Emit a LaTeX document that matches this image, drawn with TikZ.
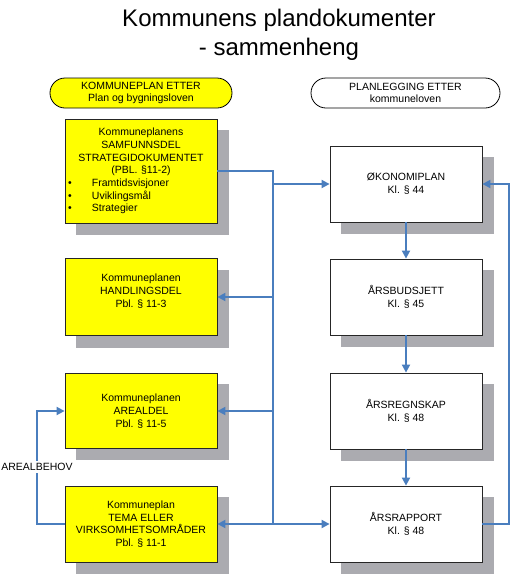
\documentclass[tikz,border=0pt]{standalone}
\usepackage{fontspec}
\setmainfont{Liberation Sans}
\usetikzlibrary{arrows.meta}
\definecolor{linkblue}{RGB}{74,126,190}
\definecolor{shgrey}{rgb}{0.67,0.67,0.69}
\definecolor{boxyellow}{RGB}{255,255,0}
\begin{document}
\begin{tikzpicture}[x=1pt,y=-1pt,
  txt/.style={font=\fontsize{10.5}{12.7}\selectfont},
  box/.style={txt, draw=black!85, line width=0.8pt, minimum width=152pt, minimum height=76pt,
    align=center, inner sep=0pt},
  ybox/.style={box, fill=boxyellow},
  wbox/.style={box, fill=white},
  shadowfill/.style={fill=shgrey, draw=shgrey, line width=0.5pt},
  pill/.style={txt, draw=black, line width=0.8pt, rounded corners=15pt, minimum height=30pt,
    align=center, inner sep=0pt},
  link/.style={draw=linkblue, line width=1.8pt},
  arr/.style={link, -{Triangle[length=8pt,width=8pt]}}]
\useasboundingbox (0,0) rectangle (511,574);

% title
\node[font=\fontsize{24}{29}\selectfont, anchor=base] (t1) at (279,26) {Kommunens plandokumenter};
\node[font=\fontsize{24}{29}\selectfont, anchor=base] (t2) at (279,55) {- sammenheng};

% headers
\node[pill, fill=boxyellow, minimum width=182pt] (hl) at (141,93) {KOMMUNEPLAN ETTER\\Plan og bygningsloven};
\node[pill, fill=white, minimum width=189pt] (hr) at (405.5,93) {PLANLEGGING ETTER\\kommuneloven};

% shadows
\filldraw[shadowfill] (76,130) rectangle (228,234);
\filldraw[shadowfill] (76,270) rectangle (228,347);
\filldraw[shadowfill] (76,384) rectangle (228,459);
\filldraw[shadowfill] (76,497) rectangle (228,573);
\filldraw[shadowfill] (341,157) rectangle (493,233);
\filldraw[shadowfill] (341,270) rectangle (493,346);
\filldraw[shadowfill] (341,384) rectangle (493,460);
\filldraw[shadowfill] (341,497) rectangle (493,573);

% left boxes
\node[ybox, minimum height=104pt, text width=152pt] (b1) at (141,171) {Kommuneplanens\\SAMFUNNSDEL\\STRATEGIDOKUMENTET\\(PBL. §11-2)\\
\makebox[152pt][l]{\hspace{3pt}\makebox[24pt][l]{•}Framtidsvisjoner}\\
\makebox[152pt][l]{\hspace{3pt}\makebox[24pt][l]{•}Uviklingsmål}\\
\makebox[152pt][l]{\hspace{3pt}\makebox[24pt][l]{•}Strategier}};
\node[ybox, minimum height=77pt] (b2) at (141,297) {Kommuneplanen\\HANDLINGSDEL\\Pbl. § 11-3\\\mbox{}};
\node[ybox, minimum height=75pt] (b3) at (141,411) {Kommuneplanen\\AREALDEL\\Pbl. § 11-5};
\node[ybox, minimum height=76pt] (b4) at (141,524) {Kommuneplan\\TEMA ELLER\\VIRKSOMHETSOMRÅDER\\Pbl. § 11-1};

% right boxes
\node[wbox] (ok) at (406,184) {ØKONOMIPLAN\\Kl. § 44};
\node[wbox] (bu) at (406,297) {ÅRSBUDSJETT\\Kl. § 45};
\node[wbox] (rg) at (406,411) {ÅRSREGNSKAP\\Kl. § 48};
\node[wbox] (rp) at (406,524) {ÅRSRAPPORT\\Kl. § 48};

% bus
\coordinate (bus) at (273,171);
\draw[link] (b1.east) -- (bus) -- (bus |- b4.east);
\draw[arr] (bus |- ok.west) -- (ok.west);
\draw[arr] (bus |- b2.east) -- (b2.east);
\draw[arr] (bus |- b3.east) -- (b3.east);
\draw[arr] (bus |- b4.east) -- (b4.east);
\draw[arr] (bus |- rp.west) -- (rp.west);

% right chain
\draw[arr] (ok.south) -- (bu.north);
\draw[arr] (bu.south) -- (rg.north);
\draw[arr] (rg.south) -- (rp.north);

% feedback
\coordinate (fb) at (509,524);
\draw[arr] (rp.east) -- (fb) -- (fb |- ok.east) -- (ok.east);

% arealbehov
\coordinate (al) at (37,524);
\draw[arr] (b4.west) -- (al) -- (al |- b3.west) -- (b3.west);
\node[txt, fill=white, inner xsep=0pt, inner ysep=2pt] (albl) at (37,467) {AREALBEHOV};
\end{tikzpicture}
\end{document}
